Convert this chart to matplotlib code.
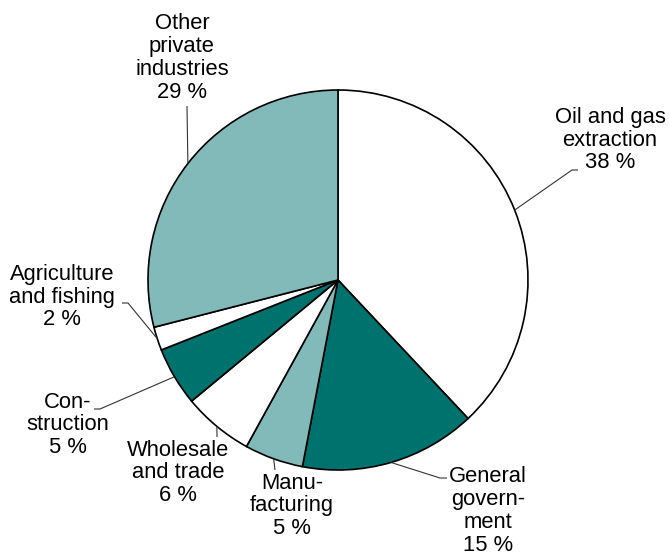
import numpy as np
import matplotlib
matplotlib.use("Agg")
import matplotlib.pyplot as plt

plt.rcParams["font.family"] = ["Liberation Sans", "DejaVu Sans"]

# Share of value added by industry (per cent)
industries = [
    "Oil and gas\nextraction",
    "General\ngovern-\nment",
    "Manu-\nfacturing",
    "Wholesale\nand trade",
    "Con-\nstruction",
    "Agriculture\nand fishing",
    "Other\nprivate\nindustries",
]
shares = [38, 15, 5, 6, 5, 2, 29]

DARK = "#00726e"
LIGHT = "#82baba"
WHITE = "#ffffff"
colors = [WHITE, DARK, LIGHT, WHITE, DARK, WHITE, LIGHT]

W, H = 669, 559
fig = plt.figure(figsize=(W / 100, H / 100), dpi=100)
ax = fig.add_axes([0, 0, 1, 1])

cx, cy_px, R = 338, 280, 190
cy = H - cy_px

ax.pie(shares, colors=colors, startangle=90, counterclock=False,
       center=(cx, cy), radius=R,
       wedgeprops=dict(edgecolor="black", linewidth=1.2))

# Label text centres and leader elbows (pixel coords, y measured from top)
label_pos = [(610, 140), (488, 511), (292, 506), (178, 473),
             (68, 425), (62, 297), (182, 58)]
elbows = [[(572, 170), (578, 170)],
          [(440, 478), (447, 478)],
          [(275, 470)],
          [(217, 437)],
          [(100, 409), (94, 409)],
          [(128, 303), (122, 303)],
          [(187, 106)]]

total = float(sum(shares))
cum = np.concatenate([[0], np.cumsum(shares)])
for i, (name, val) in enumerate(zip(industries, shares)):
    mid = np.deg2rad((cum[i] + val / 2) / total * 360.0)
    ax_x = cx + R * np.sin(mid)
    ax_y = cy + R * np.cos(mid)
    pts = [(ax_x, ax_y)] + [(x, H - y) for x, y in elbows[i]]
    xs, ys = zip(*pts)
    ax.plot(xs, ys, color="#333333", lw=0.8, solid_capstyle="butt")
    tx, ty = label_pos[i]
    ax.text(tx, H - ty, f"{name}\n{val} %", ha="center", va="center",
            fontsize=15.8, linespacing=1.12, color="black")

ax.set_xlim(0, W)
ax.set_ylim(0, H)
ax.set_aspect("equal")
ax.axis("off")

fig.savefig("out.png", dpi=100)
